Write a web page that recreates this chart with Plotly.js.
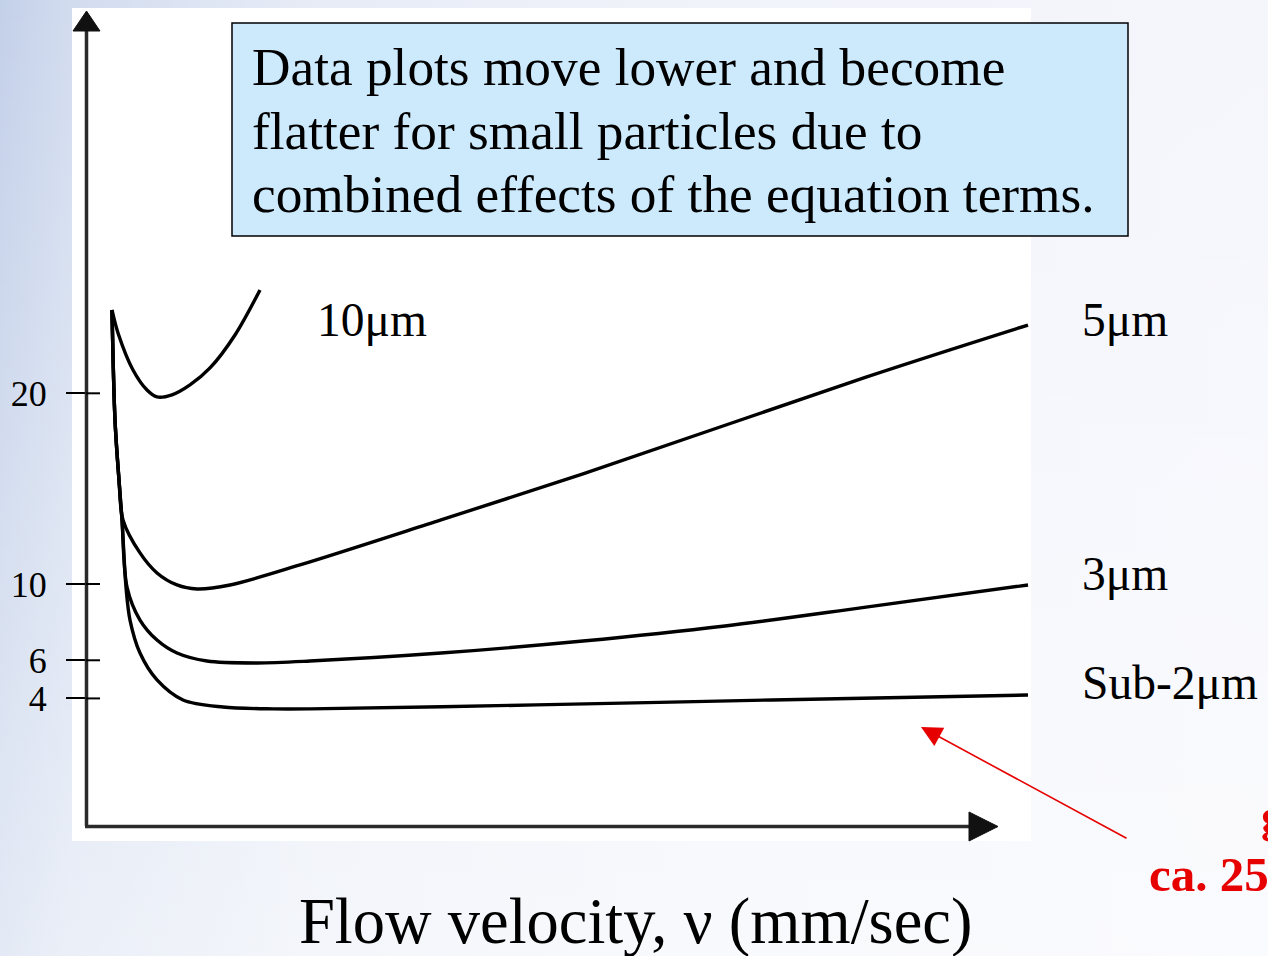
<!DOCTYPE html>
<html>
<head>
<meta charset="utf-8">
<script src="https://cdn.plot.ly/plotly-3.0.1.min.js"></script>
<style>
html,body{margin:0;padding:0;}
body{width:1268px;height:956px;overflow:hidden;
background:
 linear-gradient(to bottom, rgba(255,255,255,0) 0%, rgba(255,255,255,0.55) 100%),
 linear-gradient(to right, #c3d0e9 0px, #d2dcef 70px, #e6ebf6 300px, #f1f3fa 700px, #f5f6fc 1268px);}
#chart{width:1268px;height:956px;}
</style>
</head>
<body>
<div id="chart"></div>
<script>
// ---- data ----
const tickVals = [4, 6, 10, 20];
const tickText = ["4", "6", "10", "20"];

const x10 = [2.5, 3.1, 4.6, 6.0, 7.0, 8.5, 10.3, 12.3, 14.8, 17.3];
const y10 = [24.37, 23.16, 21.22, 20.17, 19.81, 19.92, 20.44, 21.33, 23.06, 25.42];

const x5 = [2.5, 2.8, 3.2, 3.6, 5.3, 7.0, 9.0, 11.0, 14.3, 21.3, 35.4, 49.6, 77.9, 94.1];
const y5 = [24.37, 18.60, 15.45, 13.36, 11.63, 10.58, 9.95, 9.74, 9.95, 11.00, 13.36, 15.77, 20.85, 23.58];

const x3 = [2.5, 2.8, 3.2, 3.5, 4.0, 5.3, 7.0, 9.0, 12.0, 17.0, 22.3, 35.4, 49.6, 63.8, 77.9, 94.1];
const y3 = [24.37, 18.60, 15.45, 13.36, 9.84, 8.11, 7.06, 6.38, 5.96, 5.86, 5.96, 6.38, 7.01, 7.80, 8.79, 9.95];

const xSub2 = [2.5, 2.8, 3.2, 3.5, 3.9, 4.3, 5.3, 7.0, 9.6, 13.6, 18.6, 22.3, 44.9, 68.5, 94.1];
const ySub2 = [24.37, 18.60, 15.45, 13.36, 9.84, 8.11, 6.38, 4.97, 3.92, 3.55, 3.45, 3.45, 3.66, 3.92, 4.18];

const seriesNames = ["10μm", "5μm", "3μm", "Sub-2μm"];
const calloutLines = [
  "Data plots move lower and become",
  "flatter for small particles due to",
  "combined effects of the equation terms."
];
const xTitle = "Flow velocity, ν (mm/sec)";

// ---- layout helpers (pixel -> paper) ----
const L = 87, R = 1040, T = 10, B = 826;
const PX = p => (p - L) / (R - L);
const PY = p => (B - p) / (B - T);

const serif = "Liberation Serif, Times New Roman, serif";
const lineStyle = {color: "#000", width: 3.4, shape: "spline", smoothing: 0.9};

const traces = [
  {x: x10, y: y10, name: seriesNames[0]},
  {x: x5, y: y5, name: seriesNames[1]},
  {x: x3, y: y3, name: seriesNames[2]},
  {x: xSub2, y: ySub2, name: seriesNames[3]}
].map(t => Object.assign(t, {type: "scatter", mode: "lines", line: lineStyle, hoverinfo: "skip"}));

const shapes = [
  // white picture area
  {type: "rect", xref: "paper", yref: "paper", x0: PX(72), x1: PX(1031), y0: PY(841), y1: PY(8),
   fillcolor: "#ffffff", line: {width: 0}, layer: "below"},
  // callout box
  {type: "rect", xref: "paper", yref: "paper", x0: PX(232), x1: PX(1128), y0: PY(236), y1: PY(23),
   fillcolor: "#cdeafc", line: {color: "#000", width: 1.5}, layer: "above"},
  // y axis line + arrow
  {type: "line", xref: "paper", yref: "paper", x0: PX(86.5), x1: PX(86.5), y0: PY(826), y1: PY(28),
   line: {color: "#2a2a2a", width: 3.5}},
  {type: "path", xref: "paper", yref: "paper",
   path: `M ${PX(73)} ${PY(31)} L ${PX(86.5)} ${PY(11)} L ${PX(100)} ${PY(31)} Z`,
   fillcolor: "#111", line: {color: "#111", width: 1}},
  // x axis line + arrow
  {type: "line", xref: "paper", yref: "paper", x0: PX(85), x1: PX(972), y0: PY(826.5), y1: PY(826.5),
   line: {color: "#2a2a2a", width: 3.5}},
  {type: "path", xref: "paper", yref: "paper",
   path: `M ${PX(969)} ${PY(812)} L ${PX(998)} ${PY(826.5)} L ${PX(969)} ${PY(841)} Z`,
   fillcolor: "#111", line: {color: "#111", width: 1}}
];
// inner part of the tick marks (outer part drawn by the axis)
tickVals.forEach(v => shapes.push({type: "line", xref: "paper", yref: "y", x0: PX(86), x1: PX(100), y0: v, y1: v,
  line: {color: "#000", width: 2}}));

const ann = [];
const lbl = (txt, px, py, size, extra) => ann.push(Object.assign({
  text: txt, xref: "paper", yref: "paper", x: PX(px), y: PY(py), xanchor: "left", yanchor: "middle",
  showarrow: false, font: {family: serif, size: size, color: "#000"}}, extra || {}));

lbl(seriesNames[0], 315, 320, 47.5);
lbl(seriesNames[1], 1080, 320, 47.5);
lbl(seriesNames[2], 1080, 574, 47.5);
lbl(seriesNames[3], 1080, 683, 47.5);
calloutLines.forEach((t, i) => lbl(t, 250, 68 + i * 63.5, 53.3));
lbl(xTitle, 635, 921, 64.5, {xanchor: "center"});
lbl("<b>ca. 25</b>", 1147, 874, 49, {font: {family: serif, size: 49, color: "#e60000"}});
lbl("<b>g</b>", 1259, 815, 49, {font: {family: serif, size: 49, color: "#e60000"}});
// red pointer arrow
ann.push({text: "", xref: "paper", yref: "paper", x: PX(921), y: PY(727), ax: 207, ay: 112,
  showarrow: true, arrowhead: 2, arrowsize: 2.6, arrowwidth: 1.6, arrowcolor: "#e60000"});

const layout = {
  width: 1268, height: 956,
  margin: {l: L, r: 1268 - R, t: T, b: 956 - B},
  paper_bgcolor: "rgba(0,0,0,0)", plot_bgcolor: "rgba(0,0,0,0)",
  showlegend: false,
  xaxis: {range: [0, 95.3], visible: false, showgrid: false, zeroline: false, fixedrange: true},
  yaxis: {range: [-2.69, 40.10], showgrid: false, zeroline: false, showline: false,
    tickmode: "array", tickvals: tickVals, ticktext: tickText,
    ticks: "outside", ticklen: 20, tickwidth: 2, tickcolor: "#000", ticklabelstandoff: 12,
    tickfont: {family: serif, size: 36, color: "#000"}, fixedrange: true},
  shapes: shapes,
  annotations: ann
};

Plotly.newPlot("chart", traces, layout, {displayModeBar: false, staticPlot: true});
</script>
</body>
</html>
